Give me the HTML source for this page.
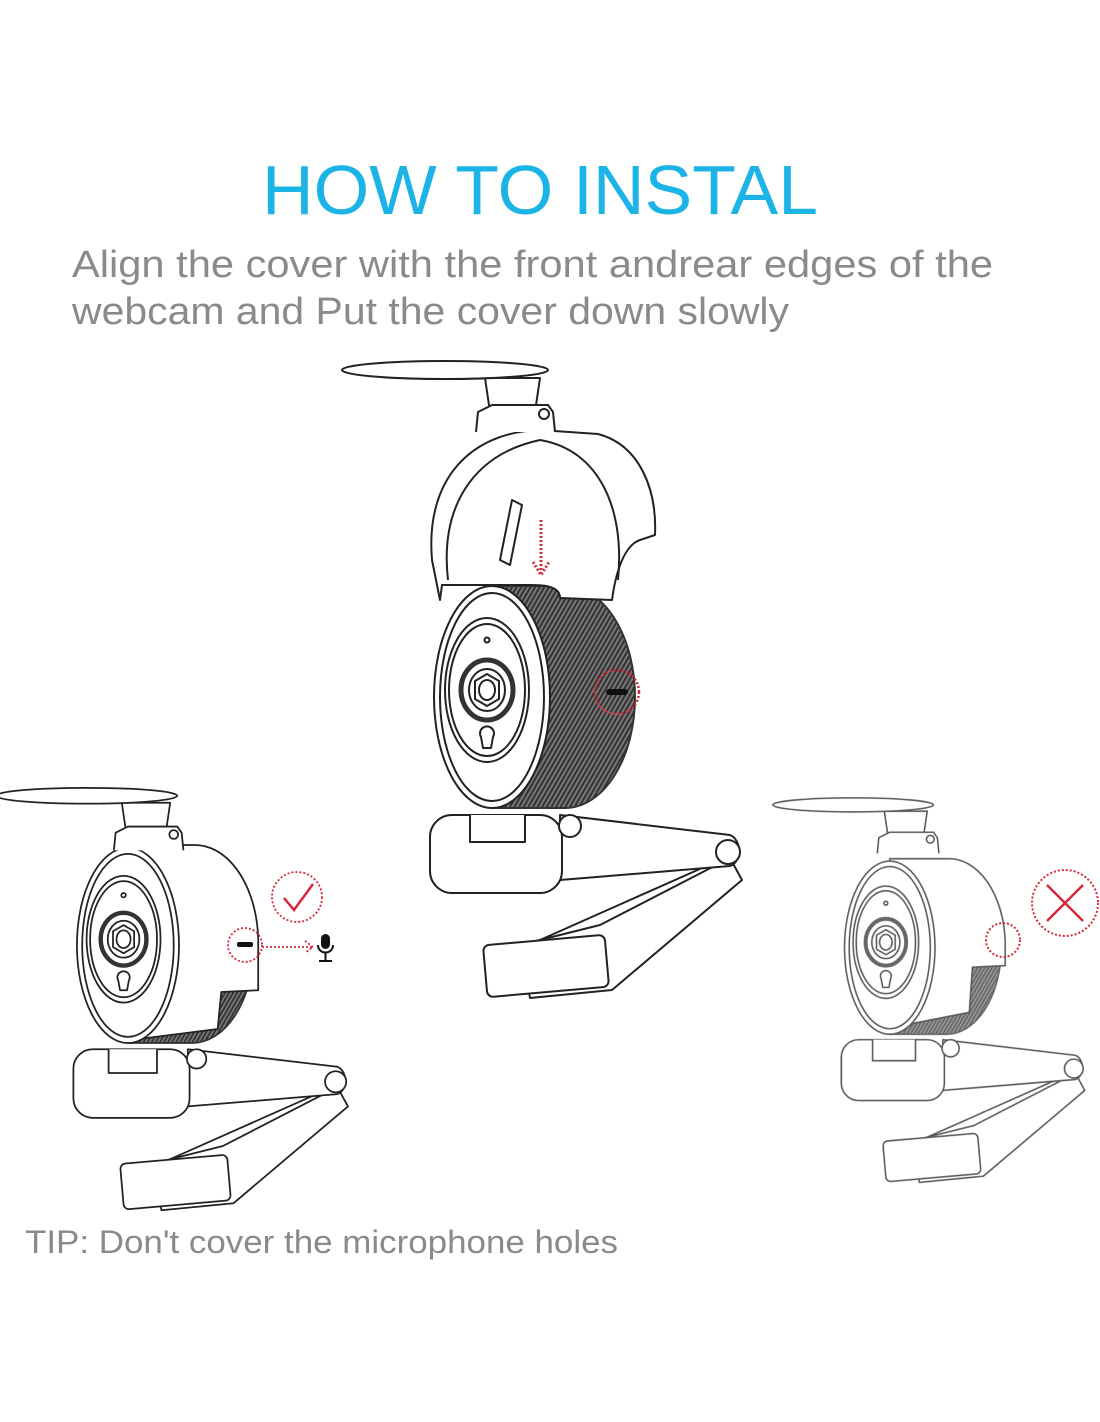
<!DOCTYPE html>
<html><head><meta charset="utf-8"><style>
html,body{margin:0;padding:0;background:#fff;}
svg{display:block;}
</style></head><body>
<svg width="1100" height="1422" viewBox="0 0 1100 1422" xmlns="http://www.w3.org/2000/svg">
<defs>
<pattern id="mesh" width="4" height="4" patternUnits="userSpaceOnUse" patternTransform="rotate(30)">
<rect width="4" height="4" fill="#777"/><rect width="2" height="4" fill="#333"/>
</pattern>
<g id="camBack" fill="#fff" stroke="#222" stroke-width="2" stroke-linejoin="round">
  <path d="M520,945 L600,925 L730,858 L742,880 L612,990 L530,998 Z"/>
  <path d="M540,940 L720,860"/>
  <rect x="485" y="940" width="122" height="52" rx="6" transform="rotate(-5 546 966)"/>
  <path d="M560,815 L730,835 C742,840 742,862 730,866 L560,880 Z"/>
  <circle cx="728" cy="852" r="12"/>
  <rect x="430" y="815" width="132" height="78" rx="22"/>
  <path d="M470,815 L470,842 L525,842 L525,815"/>
  <circle cx="570" cy="826" r="11"/>
  <path d="M492,586 L565,586 A70,111 0 0 1 565,808 L492,808 Z" fill="url(#mesh)" stroke="#333"/>
</g>
<g id="camFront" fill="#fff" stroke="#222" stroke-width="2" stroke-linejoin="round">
  <ellipse cx="492" cy="697" rx="58" ry="111"/>
  <ellipse cx="492" cy="697" rx="52" ry="104"/>
  <ellipse cx="487" cy="690" rx="42" ry="72"/>
  <ellipse cx="487" cy="690" rx="38" ry="66"/>
  <ellipse cx="487" cy="690" rx="26" ry="30" stroke-width="5" stroke="#333"/>
  <ellipse cx="487" cy="690" rx="18" ry="21"/>
  <polygon points="487,674 499,681 499,699 487,706 475,699 475,681"/>
  <ellipse cx="487" cy="690" rx="8" ry="10"/>
  <path d="M481,737 A7,7 0 1 1 493,737 L491,748 L483,748 Z"/>
  <circle cx="487" cy="640" r="2.5"/>
</g>
<path id="hood" d="M492,583 L565,583 A72,111 0 0 1 640,690 L640,748 L598,750 L594,792 L492,805 Z" fill="#fff" stroke="#222" stroke-width="2" stroke-linejoin="round"/>
<g id="covertop" fill="#fff" stroke="#222" stroke-width="2" stroke-linejoin="round">
  <path d="M485,378 L490,412 L535,412 L540,378 Z"/>
  <ellipse cx="445" cy="370" rx="103" ry="9"/>
  <path d="M476,432 L478,412 L492,405 L548,405 L553,412 L555,432"/>
  <circle cx="544" cy="414" r="5"/>
</g>
</defs>

<text x="540" y="214" text-anchor="middle" font-family="'Liberation Sans',sans-serif" font-size="70" fill="#1cb4e6" textLength="556" lengthAdjust="spacingAndGlyphs">HOW TO INSTAL</text>
<text x="72" y="277" font-family="'Liberation Sans',sans-serif" font-size="38" fill="#8a8a8a" textLength="921" lengthAdjust="spacingAndGlyphs">Align the cover with the front andrear edges of the</text>
<text x="72" y="324" font-family="'Liberation Sans',sans-serif" font-size="38" fill="#8a8a8a" textLength="717" lengthAdjust="spacingAndGlyphs">webcam and Put the cover down slowly</text>
<text x="25" y="1253" font-family="'Liberation Sans',sans-serif" font-size="32" fill="#8a8a8a" textLength="593" lengthAdjust="spacingAndGlyphs">TIP: Don't cover the microphone  holes</text>

<!-- center -->
<use href="#camBack"/>
<use href="#camFront"/>
<g fill="#fff" stroke="#222" stroke-width="2" stroke-linejoin="round">
  <path d="M440,600 L432,560 C425,480 470,432 540,430 L598,434 C640,445 657,490 655,535 L640,540 C625,545 616,570 612,600 L560,598 C560,585 540,585 530,585 L442,585 Z"/>
  <path d="M448,580 C440,510 470,455 540,440 C600,450 625,510 618,580" fill="none"/>
  <path d="M500,560 L512,500 L522,505 L510,565 Z"/>
</g>
<use href="#covertop"/>
<path d="M541,520 L541,570 M533,562 L541,575 L549,562" fill="none" stroke="#d6283a" stroke-width="3" stroke-dasharray="2,2"/>
<circle cx="617" cy="692" r="22" fill="none" stroke="#d6283a" stroke-width="2.5" stroke-dasharray="2,2"/>
<rect x="606" y="689" width="22" height="6" rx="3" fill="#111"/>

<!-- left -->
<g transform="translate(-305,332) scale(0.88)">
  <use href="#camBack"/>
  <use href="#hood"/>
  <use href="#camFront"/>
  <g transform="translate(0,157)"><use href="#covertop"/></g>
</g>
<circle cx="297" cy="897" r="25" fill="none" stroke="#d6283a" stroke-width="1.8" stroke-dasharray="2,2"/>
<path d="M284,898 L294,910 L313,884" fill="none" stroke="#d6283a" stroke-width="2.5"/>
<circle cx="245" cy="945" r="17" fill="none" stroke="#d6283a" stroke-width="1.8" stroke-dasharray="2,2"/>
<rect x="237" y="942" width="16" height="5" rx="2" fill="#111"/>
<path d="M262,947 L312,947 M305,941 L313,947 L305,953" fill="none" stroke="#d6283a" stroke-width="1.8" stroke-dasharray="2,2"/>
<rect x="321" y="934" width="9" height="15" rx="4.5" fill="#111"/>
<path d="M318,945 C318,955 333,955 333,945 M325.5,953 L325.5,960 M319,961 L332,961" fill="none" stroke="#111" stroke-width="2"/>

<!-- right -->
<g transform="translate(506,404) scale(0.78)" opacity="0.75">
  <use href="#camBack"/>
  <path d="M492,583 L565,583 A72,111 0 0 1 640,690 L640,720 L598,722 L594,780 L492,800 Z" fill="#fff" stroke="#222" stroke-width="2" stroke-linejoin="round"/>
  <use href="#camFront"/>
  <g transform="translate(0,144)"><use href="#covertop"/></g>
</g>
<circle cx="1065" cy="903" r="33" fill="none" stroke="#d6283a" stroke-width="2" stroke-dasharray="2,2"/>
<path d="M1047,885 L1083,921 M1083,885 L1047,921" stroke="#d6283a" stroke-width="2.5"/>
<circle cx="1003" cy="940" r="17" fill="none" stroke="#d6283a" stroke-width="2" stroke-dasharray="2,2"/>
</svg>
</body></html>
